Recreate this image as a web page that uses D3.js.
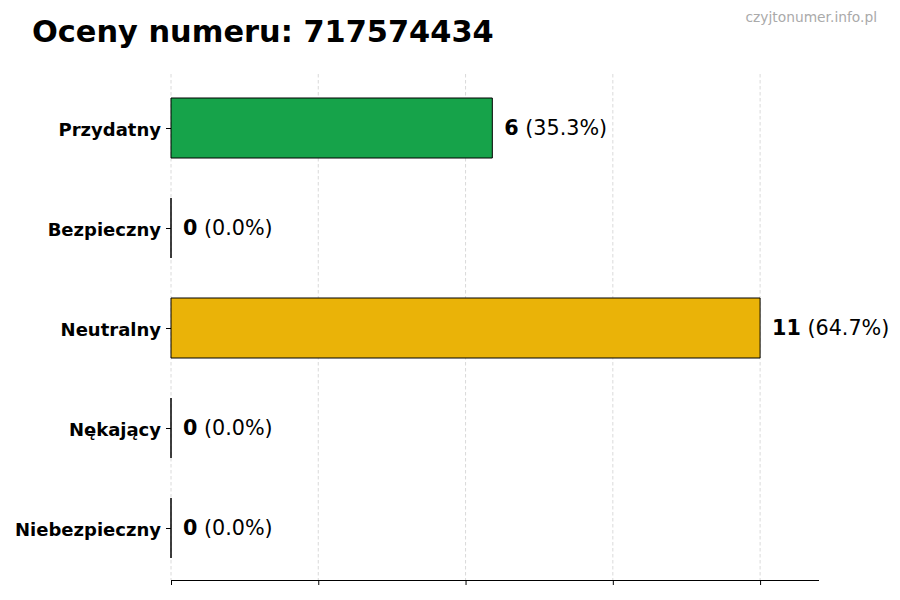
<!DOCTYPE html>
<html><head><meta charset="utf-8">
<script src="https://cdn.jsdelivr.net/npm/d3@7"></script>
<style>body{margin:0;background:#fff;} svg{display:block;font-family:"DejaVu Sans",sans-serif;}</style>
</head><body>
<svg id="c" width="900" height="600"></svg>
<script>
const categories = ["Przydatny","Bezpieczny","Neutralny","Nękający","Niebezpieczny"];
const values = [6,0,11,0,0];
const percents = ["35.3%","0.0%","64.7%","0.0%","0.0%"];
const colors = ["#16a34a","#3b82f6","#eab308","#f97316","#dc2626"];
const xTicks = [0,2.75,5.5,8.25,11];
const titleText = "Oceny numeru: 717574434";
const watermark = "czyjtonumer.info.pl";

const svg = d3.select("#c");
const mLeft = 171, mRight = 819, mTop = 74, mBottom = 580;
const maxV = d3.max(values);
const x = d3.scaleLinear().domain([0, maxV*1.1]).range([mLeft, mRight]);
const y = d3.scaleLinear().domain([-0.54, 4.52]).range([mTop, mBottom]);
const bh = y(0.3) - y(-0.3);

// grid
svg.append("g").selectAll("line").data(xTicks).join("line")
  .attr("x1", d=>x(d)).attr("x2", d=>x(d)).attr("y1", mTop).attr("y2", mBottom)
  .attr("stroke","#d0d0d0").attr("stroke-width",0.8).attr("stroke-dasharray","3.5,2.5");

// bars (paths so zero-width bars still show their edge)
svg.append("g").selectAll("path").data(values).join("path")
  .attr("d", (d,i)=>{
    const x0 = x(0), x1 = x(d), y0 = y(i)-bh/2, y1 = y(i)+bh/2;
    return `M${x0},${y0}H${x1}V${y1}H${x0}Z`;
  })
  .attr("fill", (d,i)=>colors[i]).attr("stroke","#000").attr("stroke-width",1);

// value labels
const lab = svg.append("g").selectAll("text").data(values).join("text")
  .attr("x", d=>x(d)+12).attr("y", (d,i)=>y(i)).attr("dy","0.35em")
  .attr("font-size",20.7).attr("fill","#000");
lab.append("tspan").attr("font-weight","bold").text(d=>d);
lab.append("tspan").text((d,i)=>" ("+percents[i]+")");

// x axis
const xAxis = d3.axisBottom(x).tickValues(xTicks).tickSize(5).tickFormat("");
const gx = svg.append("g").attr("transform",`translate(0,${mBottom})`).call(xAxis);
gx.select(".domain").attr("d",`M${mLeft},0.5H${mRight}`).attr("stroke","#000").attr("stroke-width",1.2);
gx.selectAll(".tick line").attr("stroke","#000").attr("stroke-width",1);

// y axis
const yAxis = d3.axisLeft(y).tickValues(d3.range(categories.length)).tickSize(5).tickPadding(5).tickFormat(i=>categories[i]);
const gy = svg.append("g").attr("transform",`translate(${mLeft},0)`).call(yAxis);
gy.select(".domain").remove();
gy.selectAll(".tick line").attr("stroke","#000");
gy.selectAll(".tick text").attr("font-size",18).attr("font-weight","bold").attr("fill","#000")
  .attr("font-family","DejaVu Sans").attr("dy","0.4em");

// title
svg.append("text").attr("x",32).attr("y",42).attr("font-size",30.4).attr("font-weight","bold").text(titleText);
svg.append("text").attr("x",877).attr("y",22).attr("text-anchor","end").attr("font-size",13.8).attr("fill","#aaaaaa").text(watermark);
</script>
</body></html>
